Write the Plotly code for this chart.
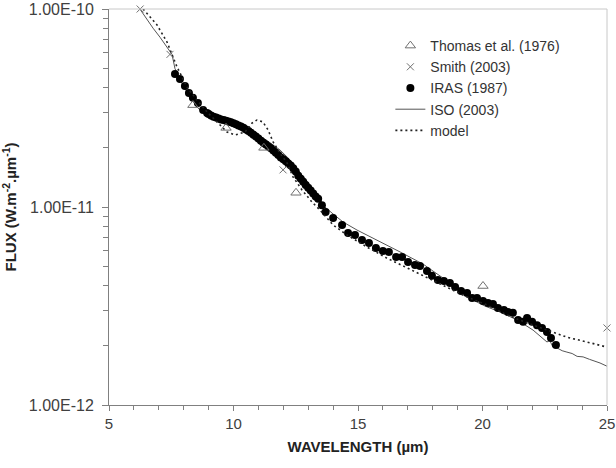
import plotly.graph_objects as go

# IRAS (1987) filled dots
iras_wl = [7.65, 7.85, 8.05, 8.21, 8.37, 8.57, 8.78, 8.94,
           9.0, 9.1, 9.2, 9.3, 9.4, 9.5, 9.6, 9.7, 9.8, 9.9,
           10.0, 10.1, 10.2, 10.3, 10.4, 10.5, 10.6, 10.7, 10.8, 10.9,
           11.0, 11.1, 11.2, 11.3, 11.4, 11.5, 11.6, 11.7, 11.8, 11.9,
           12.0, 12.1, 12.2, 12.3, 12.4, 12.5, 12.6, 12.7, 12.8, 12.9,
           13.0, 13.1, 13.2, 13.3, 13.4, 13.55, 13.7,
           14.0, 14.36, 14.6, 14.88, 15.16, 15.44, 15.72, 16.0, 16.24, 16.53,
           16.77, 17.01, 17.29, 17.49, 17.77, 17.97, 18.21, 18.45, 18.69, 18.9,
           19.14, 19.38, 19.58, 19.78, 20.02, 20.22, 20.42, 20.62, 20.86, 21.02,
           21.22, 21.43, 21.63, 21.79, 21.99, 22.19, 22.39, 22.59, 22.75, 22.95]
iras_flux = [4.70e-11, 4.43e-11, 4.08e-11, 3.77e-11, 3.56e-11, 3.35e-11, 3.09e-11, 2.98e-11,
             2.95e-11, 2.90e-11, 2.86e-11, 2.83e-11, 2.80e-11, 2.77e-11, 2.75e-11, 2.73e-11, 2.70e-11, 2.68e-11,
             2.65e-11, 2.62e-11, 2.58e-11, 2.55e-11, 2.51e-11, 2.46e-11, 2.42e-11, 2.37e-11, 2.32e-11, 2.27e-11,
             2.22e-11, 2.16e-11, 2.11e-11, 2.07e-11, 2.02e-11, 1.98e-11, 1.93e-11, 1.88e-11, 1.83e-11, 1.78e-11,
             1.74e-11, 1.70e-11, 1.66e-11, 1.62e-11, 1.57e-11, 1.51e-11, 1.44e-11, 1.39e-11, 1.34e-11, 1.29e-11,
             1.25e-11, 1.21e-11, 1.17e-11, 1.13e-11, 1.10e-11, 1.02e-11, 9.44e-12,
             8.80e-12, 8.11e-12, 7.40e-12, 7.22e-12, 6.81e-12, 6.58e-12, 6.21e-12, 6.00e-12, 5.93e-12, 5.59e-12,
             5.59e-12, 5.27e-12, 5.09e-12, 5.03e-12, 4.75e-12, 4.49e-12, 4.28e-12, 4.23e-12, 4.13e-12, 3.94e-12,
             3.77e-12, 3.68e-12, 3.47e-12, 3.47e-12, 3.35e-12, 3.27e-12, 3.24e-12, 3.09e-12, 3.02e-12, 2.95e-12,
             2.92e-12, 2.69e-12, 2.63e-12, 2.75e-12, 2.63e-12, 2.53e-12, 2.45e-12, 2.34e-12, 2.18e-12, 2.01e-12]

# ISO (2003) thin line
iso_wl = [6.24, 6.53, 6.77, 7.05, 7.33, 7.53, 7.65, 7.85, 8.09, 8.33, 8.57, 8.86,
          9.14, 9.46, 9.86, 10.26, 10.66, 11.06, 11.47, 11.87, 12.27, 12.67, 13.07,
          13.39, 13.67, 14.0, 14.4, 14.96, 15.76, 16.69, 17.61, 18.41, 19.1, 19.62,
          20.1, 20.7, 21.39, 22.03, 22.59, 22.7, 22.83, 23.0, 23.2, 23.39, 23.6,
          23.8, 24.04, 24.3, 24.5, 24.72, 25.0]
iso_flux = [1.0e-10, 8.8e-11, 8.0e-11, 7.2e-11, 6.4e-11, 5.9e-11, 5.0e-11, 4.4e-11,
            3.9e-11, 3.47e-11, 3.16e-11, 2.95e-11, 2.88e-11, 2.81e-11, 2.75e-11, 2.65e-11,
            2.51e-11, 2.29e-11, 2.11e-11, 1.94e-11, 1.73e-11, 1.50e-11, 1.29e-11, 1.14e-11,
            1.00e-11, 9.22e-12, 8.40e-12, 7.65e-12, 6.81e-12, 5.93e-12, 5.15e-12, 4.38e-12,
            3.81e-12, 3.39e-12, 3.16e-12, 2.95e-12, 2.69e-12, 2.39e-12, 2.08e-12, 2.12e-12,
            1.96e-12, 1.94e-12, 1.88e-12, 1.85e-12, 1.82e-12, 1.76e-12, 1.75e-12, 1.70e-12,
            1.67e-12, 1.63e-12, 1.57e-12]

# model, dotted
model_wl = [6.37, 6.93, 7.33, 7.73, 8.13, 8.53, 8.94, 9.34, 9.74, 10.06, 10.46, 10.74,
            10.94, 11.18, 11.39, 11.59, 11.87, 12.15, 12.39, 12.75, 13.15, 13.47, 14.0,
            14.56, 15.36, 16.16, 16.97, 17.77, 18.57, 19.38, 20.18, 20.98, 21.79, 22.59,
            23.39, 24.2, 25.0]
model_flux = [1.0e-10, 8.3e-11, 6.81e-11, 5.1e-11, 4.04e-11, 3.47e-11, 3.02e-11, 2.69e-11,
              2.39e-11, 2.31e-11, 2.39e-11, 2.65e-11, 2.75e-11, 2.69e-11, 2.45e-11, 2.13e-11,
              1.87e-11, 1.67e-11, 1.42e-11, 1.22e-11, 1.06e-11, 9.66e-12, 8.11e-12, 7.22e-12,
              6.28e-12, 5.52e-12, 4.92e-12, 4.38e-12, 3.94e-12, 3.51e-12, 3.20e-12, 2.85e-12,
              2.60e-12, 2.39e-12, 2.20e-12, 2.08e-12, 1.96e-12]

# Thomas et al. (1976) triangles
thomas_wl = [8.37, 9.70, 11.22, 12.51, 20.02]
thomas_flux = [3.27e-11, 2.51e-11, 1.99e-11, 1.18e-11, 3.99e-12]

# Smith (2003) crosses
smith_wl = [6.25, 7.45, 11.99, 25.0]
smith_flux = [1.0e-10, 5.9e-11, 1.54e-11, 2.45e-12]

y_ticks = [1e-12, 1e-11, 1e-10]
y_ticktext = ['1.00E-12', '1.00E-11', '1.00E-10']
y_minor = [m * 10.0 ** e for e in (-12, -11) for m in range(2, 10)]

fig = go.Figure()
fig.add_trace(go.Scatter(x=iso_wl, y=iso_flux, mode='lines', name='ISO (2003)',
                         line=dict(color='#555555', width=1), legendrank=4, cliponaxis=False))
fig.add_trace(go.Scatter(x=iras_wl, y=iras_flux, mode='markers', name='IRAS (1987)',
                         marker=dict(symbol='circle', size=8, color='black'), legendrank=3))
fig.add_trace(go.Scatter(x=model_wl, y=model_flux, mode='lines', name='model',
                         line=dict(color='#222222', width=1.6, dash='2px,3px'), legendrank=5))
fig.add_trace(go.Scatter(x=thomas_wl, y=thomas_flux, mode='markers', name='Thomas et al. (1976)',
                         marker=dict(symbol='triangle-up-open', size=9, color='#707070',
                                     line=dict(width=1)), legendrank=1))
fig.add_trace(go.Scatter(x=smith_wl, y=smith_flux, mode='markers', name='Smith (2003)',
                         marker=dict(symbol='x-thin-open', size=7, color='#707070',
                                     line=dict(width=1, color='#707070')), legendrank=2,
                         cliponaxis=False))

font_family = 'Liberation Sans, Arial, sans-serif'
x_font = dict(family=font_family, size=15, color='#404040')
y_font = dict(family=font_family, size=16, color='#404040')

fig.update_layout(
    width=616, height=468,
    margin=dict(l=109, r=9, t=9, b=63, autoexpand=False),
    paper_bgcolor='white', plot_bgcolor='white',
    font=x_font,
    showlegend=True,
    legend=dict(x=0.565, y=0.947, xanchor='left', yanchor='top',
                bgcolor='rgba(0,0,0,0)', font=dict(size=14, color='#333333'),
                itemwidth=30, tracegroupgap=0),
    shapes=[dict(type='line', xref='paper', yref='paper', x0=0, x1=1, y0=1, y1=1,
                 line=dict(color='#c8c8c8', width=1)),
            dict(type='line', xref='paper', yref='paper', x0=1, x1=1, y0=0, y1=1,
                 line=dict(color='#c8c8c8', width=1))],
)
fig.update_xaxes(range=[5, 25], dtick=5, tick0=5, ticks='outside', ticklen=5,
                 tickcolor='#808080', showline=True, linecolor='#808080', linewidth=1,
                 showgrid=False, zeroline=False, tickfont=x_font, automargin=False,
                 ticklabeloverflow='allow',
                 minor=dict(dtick=1, ticks='outside', ticklen=4, tickcolor='#808080'),
                 title=dict(text='<b>WAVELENGTH (µm)</b>', standoff=10,
                            font=dict(size=15, color='#222222')))
fig.update_yaxes(type='log', range=[-12, -10], tickmode='array', tickvals=y_ticks,
                 ticktext=y_ticktext, ticks='outside', ticklen=6, tickcolor='#808080',
                 showline=True, linecolor='#808080', linewidth=1, showgrid=False,
                 zeroline=False, tickfont=y_font, automargin=False,
                 ticklabelstandoff=5, ticklabeloverflow='allow',
                 minor=dict(tickmode='array', tickvals=y_minor, ticks='outside',
                            ticklen=5, tickcolor='#808080'),
                 title=dict(text='<b>FLUX (W.m<sup>-2</sup>.µm<sup>-1</sup>)</b>', standoff=13,
                            font=dict(size=15, color='#222222')))

# drop the default body margin so the figure fills the window exactly
fig.write_html("out.html", config={'displayModeBar': False},
               post_script="document.body.style.margin='0';"
                           "document.body.style.overflow='hidden';")
